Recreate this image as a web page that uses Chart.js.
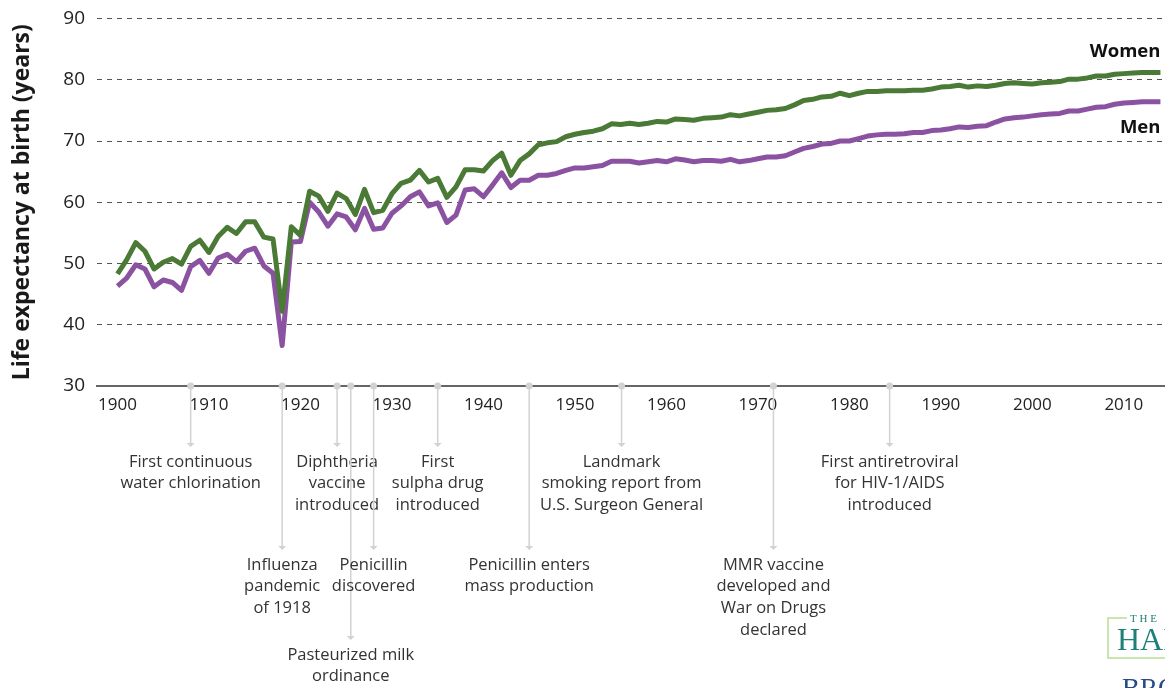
<!DOCTYPE html>
<html>
<head>
<meta charset="utf-8">
<script src="https://cdn.jsdelivr.net/npm/chart.js@4"></script>
<style>
  html, body { margin: 0; padding: 0; background: #fff; }
  #wrap { position: relative; width: 1165px; height: 688px; }
</style>
</head>
<body>
<div id="wrap"><canvas id="c" width="1165" height="688"></canvas></div>
<script>
const years = [1900,1901,1902,1903,1904,1905,1906,1907,1908,1909,
  1910,1911,1912,1913,1914,1915,1916,1917,1918,1919,
  1920,1921,1922,1923,1924,1925,1926,1927,1928,1929,
  1930,1931,1932,1933,1934,1935,1936,1937,1938,1939,
  1940,1941,1942,1943,1944,1945,1946,1947,1948,1949,
  1950,1951,1952,1953,1954,1955,1956,1957,1958,1959,
  1960,1961,1962,1963,1964,1965,1966,1967,1968,1969,
  1970,1971,1972,1973,1974,1975,1976,1977,1978,1979,
  1980,1981,1982,1983,1984,1985,1986,1987,1988,1989,
  1990,1991,1992,1993,1994,1995,1996,1997,1998,1999,
  2000,2001,2002,2003,2004,2005,2006,2007,2008,2009,
  2010,2011,2012,2013,2014];

const women = [48.3,50.6,53.4,52.0,49.1,50.2,50.8,49.9,52.8,53.8,
  51.8,54.4,55.9,54.9,56.8,56.8,54.3,54.0,42.2,56.0,
  54.6,61.8,61.0,58.5,61.5,60.6,58.0,62.1,58.3,58.7,
  61.4,63.1,63.6,65.2,63.3,63.9,60.8,62.5,65.3,65.3,
  65.1,66.8,68.0,64.4,66.8,67.9,69.4,69.7,69.9,70.7,
  71.1,71.4,71.6,72.0,72.8,72.7,72.9,72.7,72.9,73.2,
  73.1,73.6,73.5,73.4,73.7,73.8,73.9,74.3,74.1,74.4,
  74.7,75.0,75.1,75.3,75.9,76.6,76.8,77.2,77.3,77.8,
  77.4,77.8,78.1,78.1,78.2,78.2,78.2,78.3,78.3,78.5,
  78.8,78.9,79.1,78.8,79.0,78.9,79.1,79.4,79.5,79.4,
  79.3,79.5,79.6,79.7,80.1,80.1,80.3,80.6,80.6,80.9,
  81.0,81.1,81.2,81.2,81.2];

const men = [46.3,47.6,49.8,49.1,46.2,47.3,46.9,45.6,49.5,50.5,
  48.4,50.9,51.5,50.3,52.0,52.5,49.6,48.4,36.6,53.5,
  53.6,60.0,58.4,56.1,58.1,57.6,55.5,59.0,55.6,55.8,
  58.2,59.4,60.9,61.7,59.4,59.9,56.7,57.9,62.0,62.2,
  60.9,62.8,64.8,62.4,63.6,63.6,64.4,64.4,64.7,65.2,
  65.6,65.6,65.8,66.0,66.7,66.7,66.7,66.4,66.6,66.8,
  66.6,67.1,66.9,66.6,66.8,66.8,66.7,67.0,66.6,66.8,
  67.1,67.4,67.4,67.6,68.2,68.8,69.1,69.5,69.6,70.0,
  70.0,70.4,70.8,71.0,71.1,71.1,71.2,71.4,71.4,71.7,
  71.8,72.0,72.3,72.2,72.4,72.5,73.1,73.6,73.8,73.9,
  74.1,74.3,74.4,74.5,74.9,74.9,75.2,75.5,75.6,76.0,
  76.2,76.3,76.4,76.4,76.4];

const seriesNames = ['Women', 'Men'];
const xTickYears = [1900,1910,1920,1930,1940,1950,1960,1970,1980,1990,2000,2010];
const yTickValues = [30,40,50,60,70,80,90];
const yTitle = 'Life expectancy at birth (years)';

const eventYears = [1908, 1918, 1924, 1925.5, 1928, 1935, 1945, 1955.1, 1971.7, 1984.4];
const eventTier  = [0, 1, 0, 2, 1, 0, 1, 0, 1, 0];
const eventLabels = [
  ['First continuous', 'water chlorination'],
  ['Influenza', 'pandemic', 'of 1918'],
  ['Diphtheria', 'vaccine', 'introduced'],
  ['Pasteurized milk', 'ordinance'],
  ['Penicillin', 'discovered'],
  ['First', 'sulpha drug', 'introduced'],
  ['Penicillin enters', 'mass production'],
  ['Landmark', 'smoking report from', 'U.S. Surgeon General'],
  ['MMR vaccine', 'developed and', 'War on Drugs', 'declared'],
  ['First antiretroviral', 'for HIV-1/AIDS', 'introduced']
];

const GREEN = '#4a7a36';
const PURPLE = '#8c52a2';
const FONT = '"Open Sans", "DejaVu Sans", sans-serif';

const annotationPlugin = {
  id: 'annotations',
  afterDraw(chart) {
    const ctx = chart.ctx;
    const xs = chart.scales.x;
    const axisY = chart.chartArea.bottom;
    const tierDrop = [61, 164, 254];
    ctx.save();
    eventYears.forEach((yr, i) => {
      const px = xs.getPixelForValue(yr);
      const tipY = axisY + tierDrop[eventTier[i]];
      ctx.strokeStyle = '#d2d2d2';
      ctx.lineWidth = 1.5;
      ctx.beginPath();
      ctx.moveTo(px, axisY);
      ctx.lineTo(px, tipY - 2);
      ctx.stroke();
      ctx.fillStyle = '#d2d2d2';
      ctx.beginPath();
      ctx.moveTo(px - 4, tipY - 4);
      ctx.lineTo(px + 4, tipY - 4);
      ctx.lineTo(px, tipY);
      ctx.closePath();
      ctx.fill();
      ctx.beginPath();
      ctx.arc(px, axisY, 3.5, 0, Math.PI * 2);
      ctx.fill();
      ctx.fillStyle = '#333333';
      ctx.font = '16.5px ' + FONT;
      ctx.textAlign = 'center';
      ctx.textBaseline = 'middle';
      eventLabels[i].forEach((line, k) => {
        ctx.fillText(line, px, tipY + 15 + k * 21.6);
      });
    });

    // series end labels
    const ys = chart.scales.y;
    const lastIdx = years.length - 1;
    const xEnd = xs.getPixelForValue(years[lastIdx]);
    ctx.fillStyle = '#111';
    ctx.font = 'bold 18.5px ' + FONT;
    ctx.textAlign = 'right';
    ctx.textBaseline = 'middle';
    ctx.fillText(seriesNames[0], xEnd, ys.getPixelForValue(women[lastIdx]) - 21);
    ctx.fillText(seriesNames[1], xEnd, ys.getPixelForValue(men[lastIdx]) + 26);

    // publisher logo (clipped at right edge)
    ctx.strokeStyle = '#b9dd96';
    ctx.lineWidth = 1.5;
    ctx.beginPath();
    ctx.moveTo(1127, 618); ctx.lineTo(1108, 618); ctx.lineTo(1108, 658); ctx.lineTo(1170, 658);
    ctx.stroke();
    ctx.fillStyle = '#1f8079';
    ctx.textAlign = 'left';
    ctx.textBaseline = 'alphabetic';
    ctx.font = '11px "Liberation Serif", serif';
    ctx.fillText('T H E', 1130, 622);
    ctx.font = '32px "Liberation Serif", serif';
    ctx.fillText('HAMILTON', 1117, 650);
    ctx.fillStyle = '#254a86';
    ctx.font = '27px "Liberation Serif", serif';
    ctx.fillText('BROOKINGS', 1122, 697);
    ctx.restore();
  }
};

new Chart(document.getElementById('c'), {
  type: 'line',
  data: {
    datasets: [
      { label: seriesNames[0], data: years.map((y, i) => ({ x: y, y: women[i] })),
        borderColor: GREEN, borderWidth: 5, pointRadius: 0, fill: false, tension: 0,
        borderJoinStyle: 'round' },
      { label: seriesNames[1], data: years.map((y, i) => ({ x: y, y: men[i] })),
        borderColor: PURPLE, borderWidth: 5, pointRadius: 0, fill: false, tension: 0,
        borderJoinStyle: 'round' }
    ]
  },
  options: {
    responsive: false,
    animation: false,
    layout: { padding: { top: 18.5, right: 0, bottom: 0, left: 0 } },
    plugins: { legend: { display: false }, tooltip: { enabled: false } },
    scales: {
      x: {
        type: 'linear',
        min: 1897.76,
        max: 2014.5,
        afterBuildTicks: (s) => { s.ticks = xTickYears.map(v => ({ value: v })); },
        afterFit: (s) => { s.height = 302; },
        grid: { display: false, drawTicks: false },
        border: { display: true, color: '#666', width: 2 },
        ticks: { color: '#222', font: { family: FONT, size: 17 }, padding: 9, maxRotation: 0,
                 callback: (v) => String(v) }
      },
      y: {
        min: 30,
        max: 90,
        afterBuildTicks: (s) => { s.ticks = yTickValues.map(v => ({ value: v })); },
        afterFit: (s) => { s.width = 97; s.paddingTop = 0; s.paddingBottom = 0; },
        grid: { drawTicks: false, lineWidth: 1,
                color: (c) => (c.tick && c.tick.value === 30) ? 'rgba(0,0,0,0)' : '#555' },
        border: { display: false, dash: [5, 5] },
        ticks: { color: '#222', font: { family: FONT, size: 19 }, padding: 12 },
        title: { display: true, text: yTitle, color: '#1a1a1a',
                 font: { family: FONT, size: 23, weight: 'bold' }, padding: { top: 9, bottom: 4 } }
      }
    }
  },
  plugins: [annotationPlugin]
});
</script>
</body>
</html>
